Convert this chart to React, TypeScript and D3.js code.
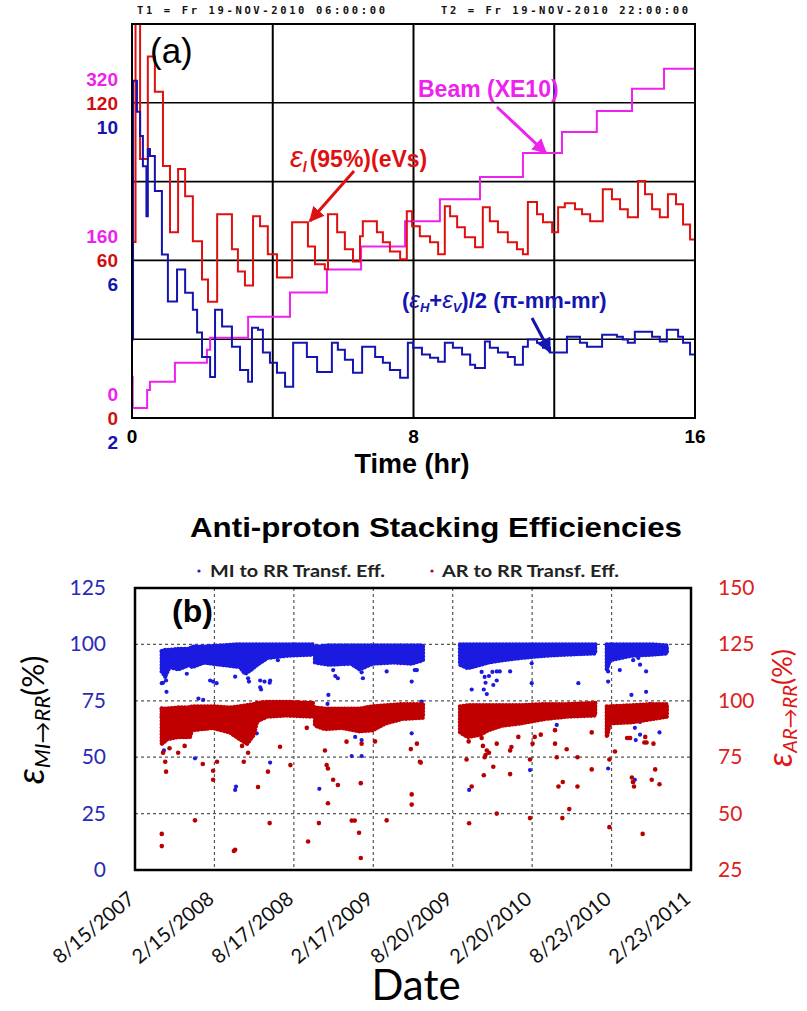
import React from 'react';
import * as d3 from 'd3';

const W = 807, H = 1011;

// ---------- Panel (a) data ----------
const timeTicks = [0, 8, 16];
const redTicks = [0, 60, 120];
const magTicks = [0, 160, 320];
const blueTicks = [2, 6, 10];

// longitudinal emittance eps_l (95%) (eVs)  [hour, value]
const longEmit: [number, number][] = [
  [0, 67], [0.1, 170], [0.23, 98.6], [0.45, 137.6], [0.65, 124.2], [0.88, 95.9], [1.08, 70.7],
  [1.31, 94.8], [1.51, 84.4], [1.73, 67.3], [1.99, 52.7], [2.16, 44.3], [2.42, 77.6], [2.84, 64.2],
  [3.01, 55.8], [3.21, 50.4], [3.44, 76.8], [3.64, 73.0], [3.86, 62.3], [4.12, 53.5], [4.55, 74.5],
  [5.0, 65.3], [5.2, 58.5], [5.48, 56.6], [5.57, 77.6], [5.83, 70.7], [6.05, 64.2], [6.28, 59.6],
  [6.48, 69.2], [6.56, 74.9], [6.96, 70.7], [7.13, 66.9], [7.33, 63.4], [7.62, 60.4], [7.81, 78.7],
  [7.96, 73.0], [8.18, 69.2], [8.47, 66.9], [8.7, 62.3], [8.89, 80.6], [9.04, 76.8], [9.24, 72.6],
  [9.46, 68.8], [9.75, 65.0], [9.97, 80.2], [10.17, 74.9], [10.4, 70.7], [10.68, 66.9], [10.94, 64.2],
  [11.11, 62.3], [11.25, 82.2], [11.51, 77.6], [11.68, 74.5], [11.94, 70.7], [12.11, 80.2], [12.3, 81.8],
  [12.59, 79.5], [12.79, 77.6], [13.02, 74.9], [13.38, 87.1], [13.64, 83.3], [13.87, 79.5], [14.09, 76.4],
  [14.38, 90.2], [14.58, 85.2], [14.78, 79.5], [15.0, 76.4], [15.23, 85.2], [15.46, 81.4], [15.66, 73.7],
  [15.86, 68.0], [16, 64.0],
];

// transverse emittance (eH+eV)/2 (pi-mm-mr)  [hour, value]
const transEmit: [number, number][] = [
  [0, 3.99], [0.03, 10.56], [0.14, 9.77], [0.23, 9.16], [0.31, 8.39], [0.41, 7.12], [0.45, 8.83],
  [0.51, 8.65], [0.65, 7.76], [0.85, 6.15], [1.02, 4.96], [1.28, 5.77], [1.51, 5.18], [1.73, 4.75],
  [1.85, 4.17], [1.99, 3.55], [2.22, 3.04], [2.36, 4.75], [2.56, 4.32], [2.84, 3.81], [3.07, 3.22],
  [3.3, 2.92], [3.41, 4.29], [3.58, 4.24], [3.72, 3.66], [3.92, 3.4], [4.12, 3.15], [4.35, 2.79],
  [4.58, 3.91], [4.97, 3.55], [5.26, 3.17], [5.68, 3.91], [5.85, 3.73], [6.05, 3.48], [6.28, 3.15],
  [6.54, 3.81], [6.91, 3.55], [7.13, 3.4], [7.33, 3.22], [7.62, 3.02], [7.84, 3.91], [7.99, 3.78],
  [8.24, 3.61], [8.47, 3.53], [8.7, 3.43], [8.89, 3.91], [9.12, 3.78], [9.38, 3.61], [9.61, 3.35],
  [9.75, 3.27], [10.03, 3.94], [10.17, 3.78], [10.4, 3.66], [10.68, 3.55], [10.88, 3.35], [11.11, 3.81],
  [11.25, 3.99], [11.51, 3.91], [11.68, 3.78], [11.88, 3.66], [12.36, 4.06], [12.73, 3.91], [12.93, 3.81],
  [13.36, 4.11], [13.78, 4.06], [13.95, 3.99], [14.09, 3.91], [14.29, 4.19], [14.78, 4.06], [15.0, 3.94],
  [15.2, 4.24], [15.52, 4.06], [15.66, 3.91], [15.86, 3.61], [16, 3.4],
];

// beam intensity (E10)  [hour, value]
const beam: [number, number][] = [
  [0, 41.8], [0.02, 10.2], [0.43, 28.5], [0.51, 36.7], [1.22, 56.0], [2.13, 69.3], [2.22, 81.5],
  [3.3, 102.9], [4.49, 127.4], [5.54, 150.8], [6.51, 174.2], [7.76, 199.7], [8.75, 222.1],
  [9.89, 244.6], [11.11, 269.0], [12.22, 290.4], [13.21, 311.8], [14.21, 334.2], [15.12, 354.6], [16, 354.6],
];

// ---------- Panel (b) data ----------
const dateTicks = ['8/15/2007', '2/15/2008', '8/17/2008', '2/17/2009', '8/20/2009', '2/20/2010', '8/23/2010', '2/23/2011'];
const leftTicksB = [0, 25, 50, 75, 100, 125];
const rightTicksB = [25, 50, 75, 100, 125, 150];
const BASE = new Date(2007, 7, 15);

// dense cores of the scatter: [day since 8/15/2007, top, bottom]
const miBands: [number, number, number][][] = [
  [[62, 97, 88], [70, 97.5, 86], [80, 97.5, 90], [100, 98, 89], [127, 98, 91], [132, 99, 90], [160, 99, 92], [200, 99.5, 91], [243, 100, 90], [255, 100, 87], [270, 100, 89], [283, 100, 91], [306, 100, 94], [350, 100, 95], [412, 100, 95.5]],
  [[417, 99, 92], [450, 99.5, 91], [500, 99.5, 91.5], [520, 99.5, 89], [551, 99.5, 91.5], [600, 99.5, 92], [640, 99.5, 91.5], [667, 99.5, 93]],
  [[753, 100, 91], [771, 100, 89.5], [800, 100, 91], [818, 100, 92], [850, 100, 93], [892, 100, 94], [950, 100, 95], [1000, 100, 95.5], [1066, 100, 96]],
  [[1093, 100, 89], [1100, 100, 93], [1150, 100, 95], [1200, 100, 95.5], [1232, 99.5, 96]],
];
const arBands: [number, number, number][][] = [
  [[62, 96.5, 81], [75, 96.5, 83], [100, 97, 84], [127, 97, 84], [132, 97.5, 87], [180, 97.5, 88], [220, 97, 86], [243, 97.5, 83], [260, 98, 81], [275, 98.5, 85], [283, 99, 91], [306, 99.5, 93], [350, 99.5, 93.5], [412, 99, 93]],
  [[417, 97, 89], [440, 96.5, 87.5], [480, 96.5, 88], [520, 96.5, 86.5], [551, 97.5, 87], [580, 98, 90], [620, 98.5, 92], [667, 98.5, 92.5]],
  [[753, 97.5, 86], [771, 98, 84], [800, 98, 85], [818, 98, 87], [850, 98, 89], [892, 98, 90], [950, 98.5, 92], [1000, 98.5, 93], [1066, 99, 93.5]],
  [[1093, 97.5, 84], [1100, 97.5, 90], [1150, 98, 90.5], [1200, 98.5, 92], [1232, 98.5, 93]],
];

// scattered points [day, value]
const miPoints: [number, number][] = [
  [65, 83], [70, 85.6], [72, 84], [120, 87], [174, 84], [181, 83.5], [189, 82.8], [232, 85.7], [262, 85], [264, 83.5],
  [290, 84], [300, 83.5], [312, 83], [331, 93], [459, 88.6], [464, 86], [470, 85], [525, 87.6], [528, 85], [583, 88],
  [641, 83.5], [653, 88.6], [643, 92], [648, 88.6], [780, 90], [803, 87.8], [810, 85.6], [820, 86], [828, 87.8], [812, 83],
  [838, 88], [845, 88], [869, 88], [919, 91.6], [919, 82.8], [1027, 82.8], [1096, 91], [1096, 88], [1096, 83.5], [1123, 88.6],
  [1154, 93], [1166, 94], [1170, 91], [1184, 88], [62, 82.8], [73, 79], [62, 71.7], [62, 68], [67, 53], [147, 76],
  [158, 75.4], [139, 49.5], [232, 35.5], [234, 37], [282, 60.6], [290, 81], [292, 80], [313, 47.6], [313, 84], [427, 36],
  [448, 77.6], [446, 73.6], [510, 59], [525, 57.6], [502, 50.5], [525, 50.5], [641, 60.6], [664, 74.6], [774, 35.5],
  [808, 80], [830, 82], [838, 84], [815, 78], [780, 80], [915, 44.3], [977, 64.3], [1096, 45], [1150, 77.6], [1184, 79],
  [1154, 65.6], [1158, 63], [1160, 57.6], [1170, 65.6], [1170, 60], [1193, 73.6], [1215, 61], [1153, 39], [1158, 40],
];
const arPoints: [number, number][] = [
  [62, 41], [62, 35.6], [72, 68.6], [70, 73], [65, 77], [139, 47], [157, 72], [181, 69], [181, 65], [190, 73],
  [229, 33.4], [232, 34], [248, 80], [252, 73], [262, 77], [285, 61.8], [308, 68.6], [312, 45.8], [336, 79.6], [360, 71.5],
  [401, 37.6], [398, 88], [426, 45.8], [440, 78], [444, 71.5], [447, 70], [447, 54.6], [459, 65], [470, 62.7], [490, 81.9],
  [502, 46.9], [509, 46.9], [519, 41.5], [523, 30.3], [523, 63.5], [525, 81], [556, 82], [583, 47], [641, 54], [641, 58.5],
  [639, 78.6], [653, 81], [660, 73], [662, 72.6], [80, 79], [100, 77], [115, 80],
  [768, 74], [780, 62], [774, 45.7], [773, 82], [775, 85], [803, 83.5], [806, 80], [810, 75], [815, 78], [812, 76],
  [820, 77], [808, 67], [830, 70.8], [838, 81], [838, 50], [869, 78], [872, 79.5], [869, 67.5], [888, 84], [915, 48],
  [915, 74], [921, 81], [926, 84], [940, 85], [973, 81], [973, 87], [977, 75], [981, 62], [991, 64], [990, 48],
  [1006, 52], [1000, 78.5], [1025, 62], [1025, 75], [1058, 86], [1058, 69.6], [1099, 44], [1099, 74], [1112, 77.5],
  [1140, 83.5], [1145, 83.5], [1147, 83.5], [1151, 66], [1156, 62], [1154, 64], [1176, 41], [1180, 81.5], [1185, 81.5],
  [1182, 84], [1201, 81], [1197, 65], [1205, 69.6], [1215, 63], [1226, 93],
];

const RED = '#e01010';
const MAG = '#ee22ee';
const BLUE = '#1414b0';

function dayToDate(d: number) {
  return new Date(BASE.getTime() + d * 86400000);
}
function parseMDY(s: string) {
  const [m, d, y] = s.split('/').map(Number);
  return new Date(y, m - 1, d);
}

export default function App() {
  // Panel (a) scales
  const xA = d3.scaleLinear().domain([0, 16]).range([132, 695]);
  const yRed = d3.scaleLinear().domain([0, 150]).range([418, 24]);
  const yMag = d3.scaleLinear().domain([0, 400]).range([418, 24]);
  const yBlue = d3.scaleLinear().domain([2, 12]).range([418, 24]);
  const stepLine = (ys: d3.ScaleLinear<number, number>) =>
    d3.line<[number, number]>().x(d => xA(d[0])).y(d => ys(d[1])).curve(d3.curveStepAfter);

  // Panel (b) scales
  const xB = d3.scaleTime().domain([BASE, parseMDY('2/23/2011')]).range([135, 691]);
  const yL = d3.scaleLinear().domain([0, 125]).range([870, 588]);
  const yR = d3.scaleLinear().domain([25, 150]).range([870, 588]);
  const bandArea = (ys: d3.ScaleLinear<number, number>) =>
    d3.area<[number, number, number]>().x(d => xB(dayToDate(d[0]))).y0(d => ys(d[2])).y1(d => ys(d[1])).curve(d3.curveLinear);

  const fontA = 'Liberation Sans, Arial, sans-serif';
  const fontB = 'Lato, Open Sans, sans-serif';

  const bandPaths = (bands: [number, number, number][][], ys: d3.ScaleLinear<number, number>, col: string, key: string) =>
    bands.map((b, i) => {
      const d = bandArea(ys)(b) || '';
      return (
        <g key={key + i}>
          <path d={d} fill={col} stroke={col} strokeWidth={2} strokeLinejoin="round" />
          <path d={d} fill="none" stroke={col} strokeWidth={4.5} strokeLinecap="round" strokeDasharray="0.1 3.2" />
        </g>
      );
    });

  return (
    <div style={{ position: 'absolute', left: 0, top: 0 }}>
      <svg width={W} height={H} style={{ display: 'block', background: '#fff' }}>
        <defs>
          <clipPath id="clipA"><rect x={132} y={24} width={563} height={394} /></clipPath>
          <clipPath id="clipB"><rect x={135} y={588} width={556} height={282} /></clipPath>
          <marker id="arR" viewBox="0 0 10 10" refX="9" refY="5" markerWidth="5" markerHeight="5" orient="auto">
            <path d="M0,0 L10,5 L0,10 z" fill={RED} />
          </marker>
          <marker id="arM" viewBox="0 0 10 10" refX="9" refY="5" markerWidth="5" markerHeight="5" orient="auto">
            <path d="M0,0 L10,5 L0,10 z" fill={MAG} />
          </marker>
          <marker id="arB" viewBox="0 0 10 10" refX="9" refY="5" markerWidth="5" markerHeight="5" orient="auto">
            <path d="M0,0 L10,5 L0,10 z" fill={BLUE} />
          </marker>
        </defs>

        {/* ===== Panel (a) ===== */}
        <text x={137} y={14} fontFamily="DejaVu Sans Mono, monospace" fontWeight="bold" fontSize={10.5} textLength={248} lengthAdjust="spacing" fill="#111">T1 = Fr 19-NOV-2010 06:00:00</text>
        <text x={441} y={14} fontFamily="DejaVu Sans Mono, monospace" fontWeight="bold" fontSize={10.5} textLength={247} lengthAdjust="spacing" fill="#111">T2 = Fr 19-NOV-2010 22:00:00</text>

        {/* grid */}
        {[4, 8, 12].map(t => (
          <line key={'gx' + t} x1={xA(t)} x2={xA(t)} y1={24} y2={418} stroke="#000" strokeWidth={2} />
        ))}
        {[30, 60, 90, 120].map(v => (
          <line key={'gy' + v} x1={132} x2={695} y1={yRed(v)} y2={yRed(v)} stroke="#000" strokeWidth={1.6} />
        ))}

        <g clipPath="url(#clipA)" fill="none" strokeWidth={2}>
          <path d={stepLine(yMag)(beam) || ''} stroke={MAG} />
          <path d={stepLine(yRed)(longEmit) || ''} stroke={RED} />
          <path d={stepLine(yBlue)(transEmit) || ''} stroke={BLUE} />
        </g>
        <rect x={132} y={24} width={563} height={394} fill="none" stroke="#000" strokeWidth={2} />

        {/* left stacked tick labels */}
        {magTicks.map(v => (
          <text key={'m' + v} x={118} y={yMag(v) - 24 + 7} textAnchor="end" fontFamily={fontA} fontWeight="bold" fontSize={19} fill={MAG}>{v}</text>
        ))}
        {redTicks.map(v => (
          <text key={'r' + v} x={118} y={yRed(v) + 7} textAnchor="end" fontFamily={fontA} fontWeight="bold" fontSize={19} fill="#d01010">{v}</text>
        ))}
        {blueTicks.map(v => (
          <text key={'b' + v} x={118} y={yBlue(v) + 24 + 7} textAnchor="end" fontFamily={fontA} fontWeight="bold" fontSize={19} fill={BLUE}>{v}</text>
        ))}
        {timeTicks.map(t => (
          <text key={'t' + t} x={xA(t)} y={443} textAnchor="middle" fontFamily={fontA} fontWeight="bold" fontSize={19} fill="#000">{t}</text>
        ))}
        <text x={412} y={473} textAnchor="middle" fontFamily={fontA} fontWeight="bold" fontSize={27} fill="#000">Time (hr)</text>
        <text x={150} y={63} fontFamily={fontA} fontSize={35} fill="#000">(a)</text>

        {/* annotations */}
        <text x={418} y={97} fontFamily={fontA} fontWeight="bold" fontSize={23} fill={MAG}>Beam (XE10)</text>
        <line x1={497} y1={107} x2={546} y2={153} stroke={MAG} strokeWidth={3} markerEnd="url(#arM)" />
        <text x={290} y={167} fontFamily={fontA} fontWeight="bold" fontSize={23} fill={RED}>
          <tspan fontStyle="italic" fontSize={29} fontWeight="normal">ε</tspan>
          <tspan fontStyle="italic" fontSize={14} dy={5}>l</tspan>
          <tspan dy={-5} dx={3}>(95%)(eVs)</tspan>
        </text>
        <line x1={354} y1={171} x2={310} y2={221} stroke={RED} strokeWidth={3} markerEnd="url(#arR)" />
        <text x={402} y={308} fontFamily={fontA} fontWeight="bold" fontSize={22} fill={BLUE}>
          <tspan>(</tspan>
          <tspan fontStyle="italic" fontWeight="normal" fontSize={24}>ε</tspan>
          <tspan fontStyle="italic" fontSize={13} dy={4}>H</tspan>
          <tspan dy={-4}>+</tspan>
          <tspan fontStyle="italic" fontWeight="normal" fontSize={24}>ε</tspan>
          <tspan fontStyle="italic" fontSize={13} dy={4}>V</tspan>
          <tspan dy={-4}>)/2 (π-mm-mr)</tspan>
        </text>
        <line x1={532} y1={318} x2={550} y2={352} stroke={BLUE} strokeWidth={3} markerEnd="url(#arB)" />

        {/* ===== Panel (b) ===== */}
        <text x={190} y={537} fontFamily={fontA} fontWeight="bold" fontSize={27} textLength={492} lengthAdjust="spacingAndGlyphs" fill="#000">Anti-proton Stacking Efficiencies</text>
        <circle cx={199} cy={571} r={1.6} fill="#1a1ad0" />
        <text x={210} y={577} fontFamily={fontB} fontWeight="bold" fontSize={17} textLength={175} lengthAdjust="spacingAndGlyphs" fill="#222">MI to RR Transf. Eff.</text>
        <circle cx={432} cy={571} r={1.6} fill="#c00000" />
        <text x={442} y={577} fontFamily={fontB} fontWeight="bold" fontSize={17} textLength={177} lengthAdjust="spacingAndGlyphs" fill="#222">AR to RR Transf. Eff.</text>

        {/* grid */}
        {[25, 50, 75, 100].map(v => (
          <line key={'hb' + v} x1={135} x2={691} y1={yL(v)} y2={yL(v)} stroke="#555" strokeWidth={1.2} strokeDasharray="3,3" />
        ))}
        {dateTicks.slice(1, -1).map(s => (
          <line key={'vb' + s} x1={xB(parseMDY(s))} x2={xB(parseMDY(s))} y1={588} y2={870} stroke="#555" strokeWidth={1.2} strokeDasharray="3,3" />
        ))}

        <g clipPath="url(#clipB)">
          {bandPaths(miBands, yL, '#1a1ae0', 'mb')}
          {miPoints.map((p, i) => (
            <circle key={'mp' + i} cx={xB(dayToDate(p[0]))} cy={yL(p[1])} r={2.1} fill="#1a1ae0" />
          ))}
          {bandPaths(arBands, yR, '#c00000', 'ab')}
          {arPoints.map((p, i) => (
            <circle key={'ap' + i} cx={xB(dayToDate(p[0]))} cy={yR(p[1])} r={2.3} fill="#b80000" />
          ))}
        </g>
        <rect x={135} y={588} width={556} height={282} fill="none" stroke="#000" strokeWidth={2.5} />
        <text x={172} y={622} fontFamily={fontA} fontWeight="bold" fontSize={32} fill="#000">(b)</text>

        {leftTicksB.map(v => (
          <text key={'lt' + v} x={106} y={yL(v) + 7} textAnchor="end" fontFamily={fontB} fontSize={21} fill="#2a2ab8">{v}</text>
        ))}
        {rightTicksB.map(v => (
          <text key={'rt' + v} x={718} y={yR(v) + 7} textAnchor="start" fontFamily={fontB} fontSize={21} fill="#dd2020">{v}</text>
        ))}
        {dateTicks.map(s => (
          <text key={'dt' + s} transform={`translate(${xB(parseMDY(s)) + 1},${901}) rotate(-40)`} textAnchor="end" fontFamily={fontB} fontSize={20} fill="#111">{s}</text>
        ))}
        <text x={416} y={1000} textAnchor="middle" fontFamily={fontB} fontSize={42} fill="#000">Date</text>

        <text transform="translate(44,720) rotate(-90)" textAnchor="middle" fontFamily={fontB} fill="#000">
          <tspan fontStyle="italic" fontSize={38}>ε</tspan>
          <tspan fontStyle="italic" fontSize={22} dy={6}>MI→RR</tspan>
          <tspan fontSize={30} dy={-6}>(%)</tspan>
        </text>
        <text transform="translate(792,708) rotate(-90)" textAnchor="middle" fontFamily={fontB} fill="#e01515">
          <tspan fontStyle="italic" fontSize={34}>ε</tspan>
          <tspan fontStyle="italic" fontSize={20} dy={5}>AR→RR</tspan>
          <tspan fontSize={27} dy={-5}>(%)</tspan>
        </text>
      </svg>
    </div>
  );
}
